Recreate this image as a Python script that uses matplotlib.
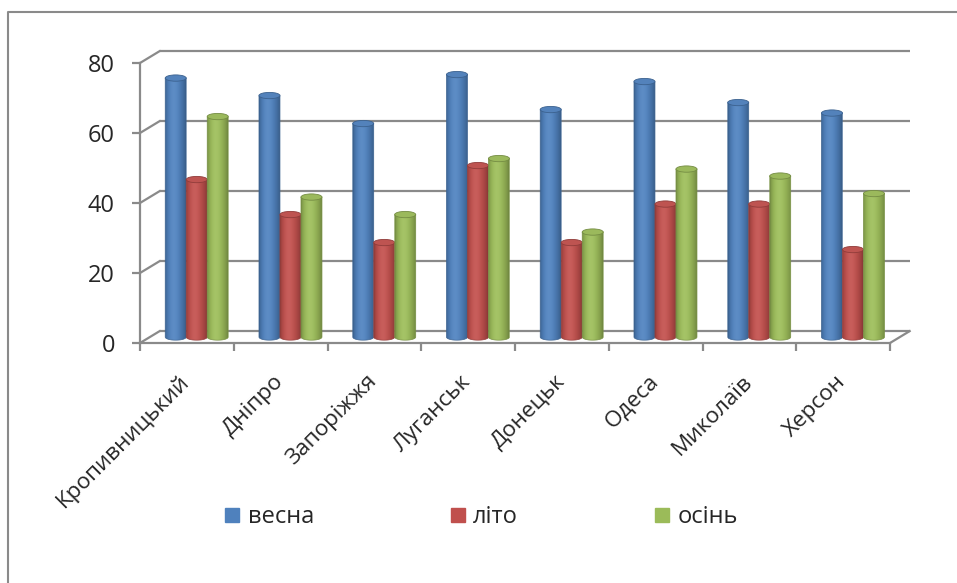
import numpy as np
import matplotlib
matplotlib.use("Agg")
import matplotlib.pyplot as plt
from matplotlib.patches import Ellipse, PathPatch
from matplotlib.path import Path
from matplotlib.lines import Line2D
from matplotlib.colors import to_rgb
from matplotlib.transforms import ScaledTranslation

# --- data -------------------------------------------------------------
cities = ["Кропивницький", "Дніпро", "Запоріжжя", "Луганськ",
          "Донецьк", "Одеса", "Миколаїв", "Херсон"]
spring = [74, 69, 61, 75, 65, 73, 67, 64]
summer = [45, 35, 27, 49, 27, 38, 38, 25]
autumn = [63, 40, 35, 51, 30, 48, 46, 41]
series_names = ["весна", "літо", "осінь"]
series_colors = ["#4F81BD", "#C0504D", "#9BBB59"]
y_ticks = [0, 20, 40, 60, 80]

plt.rcParams["font.family"] = ["Open Sans", "DejaVu Sans"]

W, H = 957, 583
fig = plt.figure(figsize=(W / 100, H / 100), dpi=100)
fig.patch.set_facecolor("white")

# front plane of the 3D box
ax = fig.add_axes([140 / W, 240 / H, 750 / W, 280 / H])
ax.set_facecolor("none")

GRID = "#8a8a8a"
TEXT = "#262626"
FS = 17

n = len(cities)
x0, x1 = -0.5, n - 0.5
DX = 0.21      # depth shift along x (category units)
DY = 3.4       # depth shift along y (value units)
BW = 0.224     # cylinder width
RY = 0.9       # half-height of the cylinder end ellipses

# back wall gridlines and left wall diagonals
for v in y_ticks:
    ax.plot([x0 + DX, x1 + DX], [v + DY, v + DY], color=GRID, lw=1.6,
            clip_on=False, zorder=1, solid_capstyle="butt")
    ax.plot([x0, x0 + DX], [v, v + DY], color=GRID, lw=1.6,
            clip_on=False, zorder=1)
# right edge of the floor
ax.plot([x1, x1 + DX], [0, DY], color=GRID, lw=1.6, clip_on=False, zorder=1)


def shade_row(color):
    base = np.array(to_rgb(color))
    t = np.linspace(0, 1, 96)
    bump = np.sin(np.pi * t ** 0.8) ** 0.7
    shade = 0.70 + 0.32 * bump
    rgb = np.clip(base[None, :] * shade[:, None], 0, 1)
    hl = 0.07 * np.sin(np.pi * t ** 0.8) ** 4
    rgb = rgb + (1 - rgb) * hl[:, None]
    return rgb[None, :, :]


def cylinder(xc, value, color, z):
    base = DY / 2
    top = value + DY / 2
    xl, xr = xc - BW / 2, xc + BW / 2
    th = np.linspace(np.pi, 2 * np.pi, 40)
    verts = [(xl, top), (xl, base)]
    verts += list(zip(xc + BW / 2 * np.cos(th), base + RY * np.sin(th)))
    verts += [(xr, base), (xr, top), (xl, top)]
    codes = [Path.MOVETO] + [Path.LINETO] * (len(verts) - 2) + [Path.CLOSEPOLY]
    c = np.array(to_rgb(color))
    body = PathPatch(Path(verts, codes), facecolor="none",
                     edgecolor=c * 0.78, lw=0.5,
                     zorder=z + 0.1, clip_on=False)
    ax.add_patch(body)
    img = ax.imshow(shade_row(color), extent=(xl, xr, base - RY, top),
                    aspect="auto", interpolation="bilinear", zorder=z)
    img.set_clip_path(body)
    cap = Ellipse((xc, top), BW, 2 * RY,
                  facecolor=np.clip(c * 0.95 + 0.03, 0, 1),
                  edgecolor=c * 0.75, lw=0.6, zorder=z + 0.2, clip_on=False)
    ax.add_patch(cap)


all_series = [spring, summer, autumn]
for i in range(n):
    for j, (vals, col) in enumerate(zip(all_series, series_colors)):
        xc = i + DX / 2 + (j - 1) * BW
        cylinder(xc, vals[i], col, 3 + j * 0.5)

ax.set_xlim(x0, x1)
ax.set_ylim(0, 80)

# axes, ticks and labels
for side in ["top", "right"]:
    ax.spines[side].set_visible(False)
for side in ["left", "bottom"]:
    ax.spines[side].set_color(GRID)
    ax.spines[side].set_linewidth(1.6)
    ax.spines[side].set_zorder(2)

ax.set_yticks(y_ticks)
ax.set_yticklabels([str(v) for v in y_ticks])
ax.tick_params(axis="y", direction="out", length=6, width=1.6, color=GRID,
               labelsize=FS, labelcolor=TEXT, pad=12)

ax.set_xticks(range(n))
ax.set_xticklabels(cities, rotation=45, ha="right")
ax.set_xticks(np.arange(n + 1) - 0.5, minor=True)
ax.tick_params(axis="x", which="major", length=0, labelsize=16.2,
               labelcolor=TEXT, pad=20)
ax.tick_params(axis="x", which="minor", direction="out", length=6,
               width=1.6, color=GRID)
shift = ScaledTranslation(7 / 100, 0, fig.dpi_scale_trans)
for lab in ax.get_xticklabels():
    lab.set_transform(lab.get_transform() + shift)

# legend
handles = [Line2D([], [], marker="s", ls="none", markersize=9.5,
                  markerfacecolor=c, markeredgecolor=c) for c in series_colors]
fig.legend(handles, series_names, loc="center",
           bbox_to_anchor=(481 / W, 1 - 517 / H), ncol=3, frameon=False,
           fontsize=FS, columnspacing=5.75, handletextpad=0.3,
           handlelength=0.7, labelcolor=TEXT)

# chart-area frame
fig.add_artist(Line2D([8 / W, 8 / W, 1.0], [0.0, 571 / H, 571 / H],
                      transform=fig.transFigure, color=GRID, lw=1.5))

fig.savefig("out.png", dpi=100)
